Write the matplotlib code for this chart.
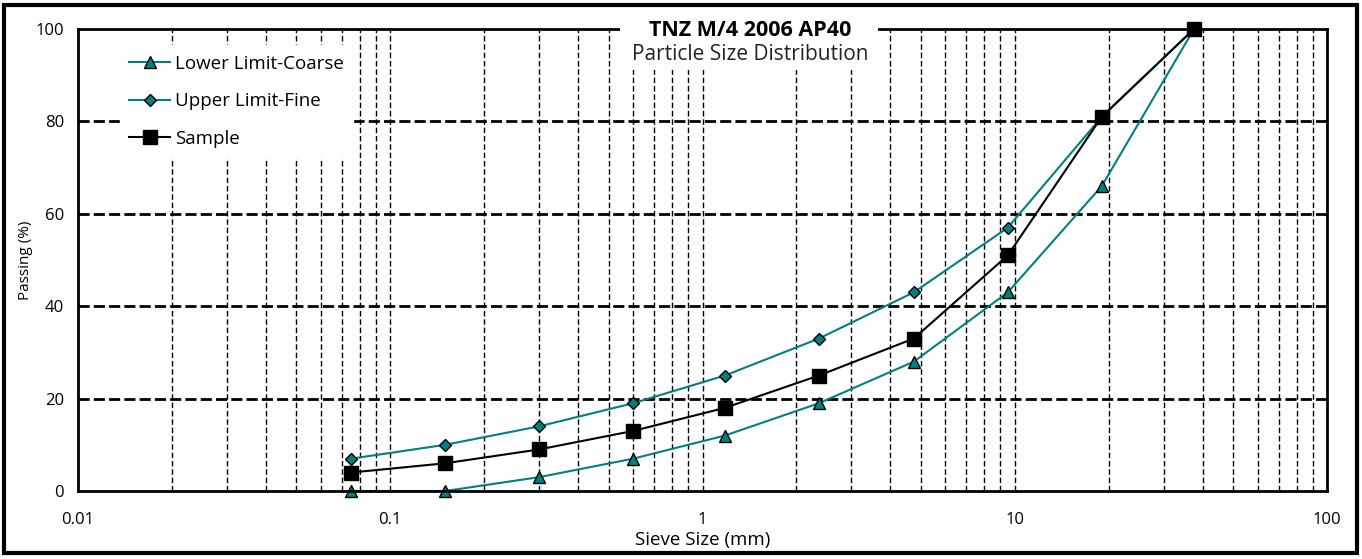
import matplotlib.pyplot as plt
from matplotlib.patches import Rectangle
from matplotlib.ticker import FixedLocator, NullFormatter

plt.rcParams['font.family'] = ['Open Sans', 'DejaVu Sans']

# --- Data ---
sieve_mm = [0.075, 0.15, 0.3, 0.6, 1.18, 2.36, 4.75, 9.5, 19, 37.5]
lower_coarse = [0, 0, 3, 7, 12, 19, 28, 43, 66, 100]
upper_fine = [7, 10, 14, 19, 25, 33, 43, 57, 81, 100]
sample = [4, 6, 9, 13, 18, 25, 33, 51, 81, 100]

x_ticks = [0.01, 0.1, 1, 10, 100]
x_tick_labels = ["0.01", "0.1", "1", "10", "100"]
y_ticks = [0, 20, 40, 60, 80, 100]

TEAL = "#008080"

fig = plt.figure(figsize=(13.62, 5.59), dpi=100)
ax = fig.add_axes([78 / 1362, 1 - 491 / 559, (1327 - 78) / 1362, (491 - 29) / 559])

# outer border
fig.patches.append(Rectangle((4 / 1362, 6 / 559), 1353 / 1362, 548 / 559,
                             transform=fig.transFigure, fill=False,
                             edgecolor="black", linewidth=3))

ax.set_xscale("log")
ax.set_xlim(0.01, 100)
ax.set_ylim(0, 100)

# grid: minor log lines dashed, horizontal dashed heavier
minors = [m * 10.0 ** e for e in range(-2, 2) for m in range(2, 10)]
for xv in minors + [0.1, 1, 10]:
    ax.axvline(xv, color="black", linestyle=(0, (4, 2)), linewidth=1.0, zorder=1)
for yv in [20, 40, 60, 80]:
    ax.axhline(yv, color="black", linestyle=(0, (4, 1.5)), linewidth=2.0, zorder=1)

ax.plot(sieve_mm, lower_coarse, color=TEAL, linewidth=1.5, marker="^",
        markersize=8, markerfacecolor=TEAL, markeredgecolor="black",
        markeredgewidth=1, label="Lower Limit-Coarse", zorder=4, clip_on=False)
ax.plot(sieve_mm, upper_fine, color=TEAL, linewidth=1.5, marker="D",
        markersize=6.5, markerfacecolor=TEAL, markeredgecolor="black",
        markeredgewidth=1, label="Upper Limit-Fine", zorder=4, clip_on=False)
ax.plot(sieve_mm, sample, color="black", linewidth=1.5, marker="s",
        markersize=10, markerfacecolor="black", markeredgecolor="black",
        label="Sample", zorder=5, clip_on=False)

ax.xaxis.set_major_locator(FixedLocator(x_ticks))
ax.set_xticklabels(x_tick_labels)
ax.xaxis.set_minor_formatter(NullFormatter())
ax.set_yticks(y_ticks)
ax.tick_params(axis="both", which="both", length=0, labelsize=12)
ax.tick_params(axis="x", pad=15)
ax.tick_params(axis="y", pad=10)

for s in ax.spines.values():
    s.set_linewidth(2)
    s.set_zorder(6)

ax.set_xlabel("Sieve Size (mm)", fontsize=13.5, labelpad=2)
ax.set_ylabel("Passing (%)", fontsize=11, labelpad=2)

leg = ax.legend(loc="upper left", bbox_to_anchor=(0.026, 0.985), fontsize=13.5,
                frameon=True, fancybox=False, handlelength=2.2,
                handletextpad=0.25, labelspacing=1.05, borderpad=0.5)
leg.get_frame().set_edgecolor("white")
leg.get_frame().set_facecolor("white")
leg.get_frame().set_alpha(1)
leg.set_zorder(7)

# title box over the top of the plot
fig.patches.append(Rectangle((620 / 1362, 1 - 70 / 559), 258 / 1362, 50 / 559,
                             transform=fig.transFigure, facecolor="white",
                             edgecolor="none", zorder=10))
fig.text(750 / 1362, 1 - 31 / 559, "TNZ M/4 2006 AP40", ha="center", va="center",
         fontsize=15.5, fontweight="bold", zorder=11)
fig.text(750 / 1362, 1 - 54 / 559, "Particle Size Distribution", ha="center",
         va="center", fontsize=15, color="#222222", zorder=11)

fig.savefig("out.png", dpi=100)
